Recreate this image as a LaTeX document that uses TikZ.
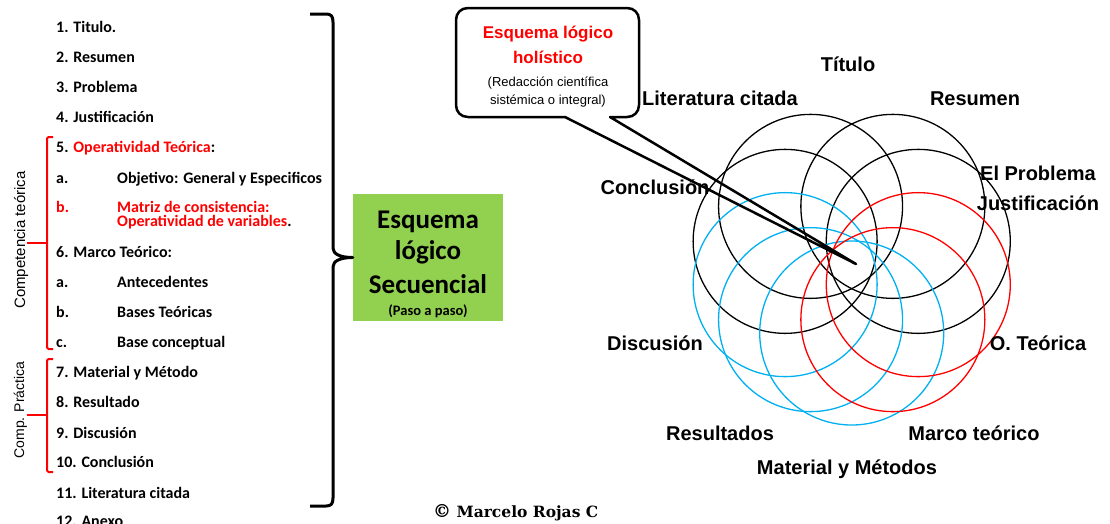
\documentclass[tikz,border=0pt]{standalone}
\usepackage{fontspec}
\setmainfont{Liberation Sans}
\newfontfamily\calf{Carlito}
\newfontfamily\arlf{Liberation Sans}
\newfontfamily\srff{DejaVu Serif}
\usetikzlibrary{calc}
\definecolor{myred}{RGB}{255,0,0}
\definecolor{myblue}{RGB}{0,176,240}
\definecolor{mygreen}{RGB}{146,208,80}
\begin{document}
\begin{tikzpicture}[x=1pt,y=-1pt,
  li/.style={anchor=base west, inner sep=0pt, font=\calf\bfseries\fontsize{16}{16}\selectfont},
  lab/.style={anchor=base, inner sep=0pt, font=\arlf\bfseries\fontsize{20}{20}\selectfont},
  redbr/.style={myred, line width=2pt, rounded corners=1.5pt},
  rot/.style={rotate=90, anchor=base, inner sep=0pt, font=\arlf\fontsize{14}{14}\selectfont},
  ring/.style={line width=1.3pt},
  seqtxt/.style={anchor=base, inner sep=0pt, font=\calf\bfseries\fontsize{27}{27}\selectfont}]
\useasboundingbox (0,0) rectangle (1110,523);

% ---------------- left list ----------------
\node[li] (i1) at (56,32) {1. Titulo.};
\node[li] (i2) at (56,62) {2. Resumen};
\node[li] (i3) at (56,92) {3. Problema};
\node[li] (i4) at (56,122) {4. Justificación};
\node[li] (i5) at (56,152) {5. \textcolor{myred}{Operatividad Teórica}:};
\node[li] (i5a) at (56,183) {a.};
\node[li] (i5at) at (117,183) {Objetivo: General y Especificos};
\node[li,myred] (i5b) at (56,212) {b.};
\node[li,myred] (i5bt) at (117,212) {Matriz de consistencia:};
\node[li] (i5bt2) at (117,226) {\textcolor{myred}{Operatividad de variables}.};
\node[li] (i6) at (56,257) {6. Marco Teórico:};
\node[li] (i6a) at (56,287) {a.};
\node[li] (i6at) at (117,287) {Antecedentes};
\node[li] (i6b) at (56,317) {b.};
\node[li] (i6bt) at (117,317) {Bases Teóricas};
\node[li] (i6c) at (56,347) {c.};
\node[li] (i6ct) at (117,347) {Base conceptual};
\node[li] (i7) at (56,377) {7. Material y Método};
\node[li] (i8) at (56,407) {8. Resultado};
\node[li] (i9) at (56,438) {9. Discusión};
\node[li] (i10) at (56,467) {10. Conclusión};
\node[li] (i11) at (56,498) {11. Literatura citada};
\node[li] (i12) at (56,526) {12. Anexo};

% red brackets
\draw[redbr] (53,137) -- (47,137) -- (47,349) -- (53,349);
\draw[redbr] (27,243) -- (47,243);
\draw[redbr] (53,359) -- (47,359) -- (47,472) -- (53,472);
\draw[redbr] (27,415) -- (47,415);
\node[rot, font=\arlf\fontsize{15}{15}\selectfont] (ct) at (25,240) {Competencia teórica};
\node[rot] (cp) at (24,410) {Comp. Práctica};

% green box
\node[fill=mygreen, minimum width=150pt, minimum height=127pt, inner sep=0pt] (seq) at (428,257.5) {};
\node[seqtxt] (s1) at (428,228) {Esquema};
\node[seqtxt] (s2) at (428,259) {lógico};
\node[seqtxt] (s3) at (428,293) {Secuencial};
\node[anchor=base, inner sep=0pt, font=\calf\bfseries\fontsize{14.5}{14.5}\selectfont] (s4) at (428,315) {(Paso a paso)};

% big brace
\draw[line width=3pt, line join=round] (310,14) -- (326,14) .. controls (331,14) and (333,16) .. (333,22)
  -- (333,248) .. controls (333,254) and (340,257.5) .. (seq.west)
  .. controls (340,257.5) and (333,261) .. (333,267)
  -- (333,498) .. controls (333,504) and (331,506) .. (326,506) -- (310,506);

% ---------------- rosette ----------------
\coordinate (C) at (851.7,263);
\foreach \a/\c in {234/black,306/black,198/black,342/black,162/myblue,126/myblue,90/myblue,18/myred,54/myred}
  \draw[ring,\c] ($(C)+(\a:70)$) circle[radius=92];

\node[lab] (tit) at (848,71) {Título};
\node[lab] (lit) at (720,105) {Literatura citada};
\node[lab] (res) at (975,105) {Resumen};
\node[lab] (pro) at (1038,180) {El Problema};
\node[lab] (jus) at (1038,210) {Justificación};
\node[lab] (con) at (655,194) {Conclusión};
\node[lab] (dis) at (655,350) {Discusión};
\node[lab] (ote) at (1038,350) {O. Teórica};
\node[lab] (rsl) at (720,440) {Resultados};
\node[lab] (mar) at (974,440) {Marco teórico};
\node[lab] (mat) at (847,474) {Material y Métodos};

% callout
\coordinate (tip) at (856,264);
\draw[line width=2.5pt, line join=round] (565,117) -- (468,117) .. controls (461,117) and (456,112) .. (456,105)
  -- (456,20) .. controls (456,13) and (461,8) .. (468,8) -- (627,8) .. controls (634,8) and (639,13) .. (639,20)
  -- (639,105) .. controls (639,112) and (634,117) .. (627,117) -- (610,117) -- (tip) -- cycle;
\node[anchor=base, inner sep=0pt, myred, font=\arlf\bfseries\fontsize{17}{17}\selectfont] (h1) at (548,38) {Esquema lógico};
\node[anchor=base, inner sep=0pt, myred, font=\arlf\bfseries\fontsize{17}{17}\selectfont] (h2) at (548,63) {holístico};
\node[anchor=base, inner sep=0pt, font=\arlf\fontsize{13}{13}\selectfont] (h3) at (548,86) {(Redacción científica};
\node[anchor=base, inner sep=0pt, font=\arlf\fontsize{13}{13}\selectfont] (h4) at (548,104) {sistémica o integral)};

% copyright
\node[anchor=base west, inner sep=0pt, font=\srff\bfseries\fontsize{15.5}{15.5}\selectfont] (cr) at (433,517) {\fontsize{18}{18}\selectfont©\fontsize{15.5}{15.5}\selectfont{} Marcelo Rojas C};
\end{tikzpicture}
\end{document}
